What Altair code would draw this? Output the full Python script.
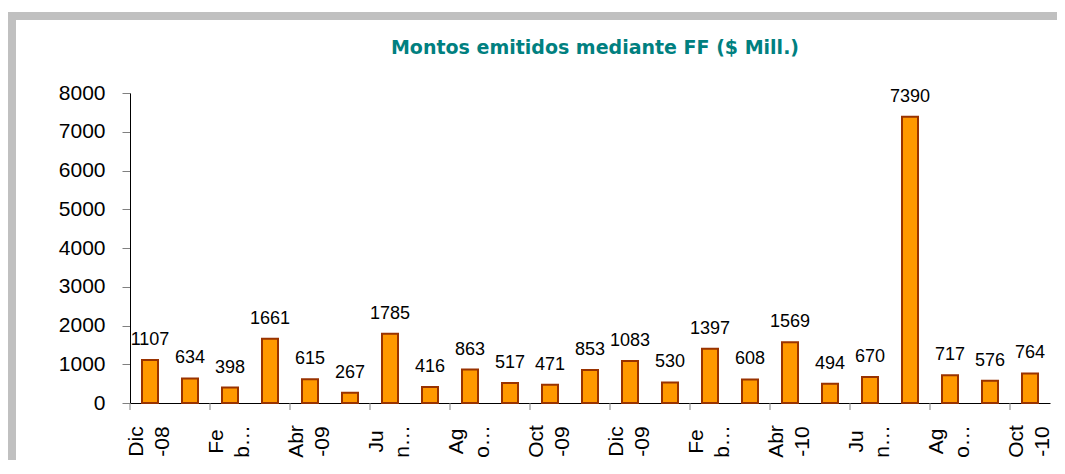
import altair as alt
import pandas as pd

# Categories (monthly, Dec-08 .. Oct-10)
months = ["Dic-08", "Ene-09", "Feb-09", "Mar-09", "Abr-09", "May-09", "Jun-09",
          "Jul-09", "Ago-09", "Sep-09", "Oct-09", "Nov-09", "Dic-09", "Ene-10",
          "Feb-10", "Mar-10", "Abr-10", "May-10", "Jun-10", "Jul-10", "Ago-10",
          "Sep-10", "Oct-10"]
# Amounts issued (millions)
values = [1107, 634, 398, 1661, 615, 267, 1785, 416, 863, 517, 471, 853, 1083,
          530, 1397, 608, 1569, 494, 670, 7390, 717, 576, 764]
# Labelled categories and their (two-line) tick labels
tick_months = ["Dic-08", "Feb-09", "Abr-09", "Jun-09", "Ago-09", "Oct-09",
               "Dic-09", "Feb-10", "Abr-10", "Jun-10", "Ago-10", "Oct-10"]
tick_labels = [["Dic", "-08"], ["Fe", "b…"], ["Abr", "-09"], ["Ju", "n…"],
               ["Ag", "o…"], ["Oct", "-09"], ["Dic", "-09"], ["Fe", "b…"],
               ["Abr", "-10"], ["Ju", "n…"], ["Ag", "o…"], ["Oct", "-10"]]
y_ticks = [0, 1000, 2000, 3000, 4000, 5000, 6000, 7000, 8000]

TITLE = "Montos emitidos mediante FF ($ Mill.)"

W, H = 920, 310

df = pd.DataFrame({"mes": months, "monto": values})
df_ticks = pd.DataFrame({"mes": tick_months})

label_expr = ""
for m, lab in zip(tick_months, tick_labels):
    label_expr += "datum.value == '%s' ? ['%s', '%s'] : " % (m, lab[0], lab[1])
label_expr += "''"

xscale = alt.Scale(domain=months, paddingInner=0, paddingOuter=0)
yscale = alt.Scale(domain=[0, 8000], nice=False)

x_axis = alt.Axis(
    title=None, labelAngle=270, labelAlign="center", labelBaseline="middle",
    labelPadding=38, ticks=False, tickSize=0, labelFont="Liberation Sans",
    labelFontSize=21, labelColor="black", labelLineHeight=26,
    labelOffset=-13, labelExpr=label_expr, labelOverlap=False,
    domainColor="black", domainWidth=1,
)
y_axis = alt.Axis(
    title=None, values=y_ticks, grid=False,
    labelFont="Liberation Sans", labelFontSize=21, labelColor="black",
    tickColor="#808080", tickSize=8, labelPadding=17, labelOverlap=False,
    labelBound=False, domainColor="black", domainWidth=1, format="d",
)

bars = alt.Chart(df).mark_bar(
    fill="#FF9900", stroke="#993300", strokeWidth=2, size=16
).encode(
    x=alt.X("mes:N", scale=xscale, axis=x_axis),
    y=alt.Y("monto:Q", scale=yscale, axis=y_axis),
)

labels = alt.Chart(df).mark_text(
    font="Liberation Sans", fontSize=18, baseline="alphabetic",
    dy=-15, color="black"
).encode(
    x=alt.X("mes:N", scale=xscale, axis=x_axis),
    y=alt.Y("monto:Q", scale=yscale, axis=y_axis),
    text=alt.Text("monto:Q", format="d"),
)

xticks = alt.Chart(df_ticks).mark_rule(color="#808080", strokeWidth=1).encode(
    x=alt.X("mes:N", scale=xscale, bandPosition=0, axis=x_axis),
    y=alt.value(H), y2=alt.value(H + 7),
)

frame = alt.Chart(pd.DataFrame({"f": [0]})).mark_rect(
    fillOpacity=0, stroke="#c0c0c0", strokeWidth=8
).encode(
    x=alt.value(-118), x2=alt.value(W + 40),
    y=alt.value(-77), y2=alt.value(H + 90),
)

chart = alt.layer(frame, bars, labels, xticks).properties(
    width=W, height=H,
    autosize="none",
    padding={"left": 122, "top": 85, "right": 7, "bottom": 57},
    background="white",
    title=alt.TitleParams(
        TITLE, font="DejaVu Sans", fontSize=19, fontWeight="bold",
        color="#008080", anchor="middle", frame="group", dx=5, offset=-46,
    ),
).configure_view(stroke=None)

chart.save("out.html", embed_options={"renderer": "svg", "actions": False})
